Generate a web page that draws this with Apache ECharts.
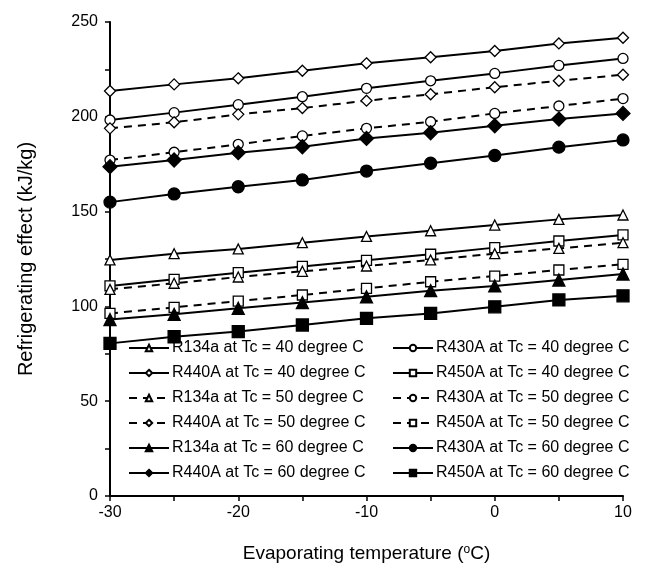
<!DOCTYPE html>
<html>
<head>
<meta charset="utf-8">
<script src="https://cdn.jsdelivr.net/npm/echarts@6/dist/echarts.min.js"></script>
<style>html,body{margin:0;padding:0;background:#fff}#c{width:646px;height:571px}</style>
</head>
<body>
<div id="c"></div>
<script>
const temps = [-30, -25, -20, -15, -10, -5, 0, 5, 10];
const xTicks = [-30, -20, -10, 0, 10];
const yTicks = [0, 50, 100, 150, 200, 250];

const R134a_40 = [124.5, 127.8, 130.3, 133.6, 136.9, 139.9, 142.9, 145.9, 148.2];
const R430A_40 = [198.3, 202.2, 206.4, 210.6, 215.0, 219.0, 222.9, 227.1, 230.8];
const R440A_40 = [213.6, 217.1, 220.3, 224.3, 228.2, 231.4, 234.7, 238.7, 241.7];
const R450A_40 = [110.8, 114.3, 117.8, 121.1, 124.3, 127.5, 131.0, 134.5, 137.7];
const R134a_50 = [109.0, 112.2, 115.5, 118.5, 121.3, 124.5, 127.8, 130.6, 133.6];
const R430A_50 = [177.2, 181.3, 185.5, 189.9, 193.9, 197.4, 201.8, 205.7, 209.6];
const R440A_50 = [193.9, 197.1, 201.3, 204.6, 208.5, 211.9, 215.6, 219.0, 222.2];
const R450A_50 = [96.3, 99.5, 102.8, 106.0, 109.5, 113.0, 116.0, 119.2, 122.2];
const R134a_60 = [93.1, 95.8, 99.0, 102.0, 105.1, 108.3, 110.8, 113.9, 117.1];
const R430A_60 = [155.0, 159.3, 163.1, 166.7, 171.4, 175.5, 179.6, 184.0, 187.8];
const R440A_60 = [173.7, 177.2, 181.1, 184.2, 188.6, 191.6, 195.3, 198.8, 201.8];
const R450A_60 = [80.5, 84.0, 86.7, 90.2, 93.7, 96.3, 99.8, 103.4, 105.6];

const names = [
  'R134a at Tc = 40 degree C', 'R430A at Tc = 40 degree C',
  'R440A at Tc = 40 degree C', 'R450A at Tc = 40 degree C',
  'R134a at Tc = 50 degree C', 'R430A at Tc = 50 degree C',
  'R440A at Tc = 50 degree C', 'R450A at Tc = 50 degree C',
  'R134a at Tc = 60 degree C', 'R430A at Tc = 60 degree C',
  'R440A at Tc = 60 degree C', 'R450A at Tc = 60 degree C'
];
const values = [R134a_40, R430A_40, R440A_40, R450A_40, R134a_50, R430A_50, R440A_50, R450A_50, R134a_60, R430A_60, R440A_60, R450A_60];
const symbols = ['triangle', 'circle', 'diamond', 'rect'];
const openSizes = [10, 10, 11, 10];
const fillSizes = [12, 12, 14, 12];

const FONT = 'Liberation Sans, Arial, sans-serif';

const series = values.map((vals, i) => {
  const group = Math.floor(i / 4); // 0:40, 1:50, 2:60
  const k = i % 4;
  const filled = group === 2;
  return {
    name: names[i],
    type: 'line',
    data: temps.map((t, j) => [t, vals[j]]),
    symbol: symbols[k],
    symbolSize: filled ? fillSizes[k] : openSizes[k],
    showAllSymbol: true,
    lineStyle: { color: '#000', width: 2, type: group === 1 ? [8, 6] : 'solid' },
    itemStyle: { color: filled ? '#000' : '#fff', borderColor: '#000', borderWidth: 1.3 },
    emphasis: { disabled: true },
    z: 3
  };
});

const legendCommon = {
  orient: 'vertical',
  itemWidth: 40,
  itemHeight: 8,
  itemGap: 9,
  textStyle: { fontSize: 16, color: '#000', fontFamily: FONT, lineHeight: 16, padding: [0, 0, 0, -2] },
  padding: 0,
  selectedMode: false,
  z: 5
};

const chart = echarts.init(document.getElementById('c'), null, { renderer: 'canvas' });
chart.setOption({
  animation: false,
  backgroundColor: '#fff',
  grid: { left: 110, right: 23, top: 22, bottom: 75 },
  legend: [
    Object.assign({}, legendCommon, { left: 128, top: 340, data: names.filter((_, i) => i % 2 === 0) }),
    Object.assign({}, legendCommon, { left: 392, top: 340, data: names.filter((_, i) => i % 2 === 1) })
  ],
  xAxis: {
    type: 'value', min: -30, max: 10, interval: 5,
    name: '{a|Evaporating temperature (}{s|o}{a|C)}',
    nameLocation: 'middle', nameGap: 48,
    nameTextStyle: { rich: {
      a: { fontSize: 19, fontFamily: FONT, color: '#000' },
      s: { fontSize: 12, fontFamily: FONT, color: '#000', verticalAlign: 'top', padding: [0, 0, 8, 0] }
    } },
    axisLine: { onZero: false, lineStyle: { color: '#000', width: 2 } },
    axisTick: { length: 5, lineStyle: { color: '#000', width: 1.5 } },
    axisLabel: { fontSize: 16, color: '#000', fontFamily: FONT, margin: 9,
      formatter: v => xTicks.includes(v) ? String(v) : '' },
    splitLine: { show: false }
  },
  yAxis: {
    type: 'value', min: 0, max: 250, interval: 25,
    name: 'Refrigerating effect (kJ/kg)',
    nameLocation: 'middle', nameGap: 74,
    nameTextStyle: { fontSize: 20, fontFamily: FONT, color: '#000' },
    axisLine: { show: true, onZero: false, lineStyle: { color: '#000', width: 2 } },
    axisTick: { show: true, length: 5, lineStyle: { color: '#000', width: 1.5 } },
    axisLabel: { fontSize: 16, color: '#000', fontFamily: FONT, margin: 12,
      formatter: v => yTicks.includes(v) ? String(v) : '' },
    splitLine: { show: false }
  },
  series: series
});
</script>
</body>
</html>
